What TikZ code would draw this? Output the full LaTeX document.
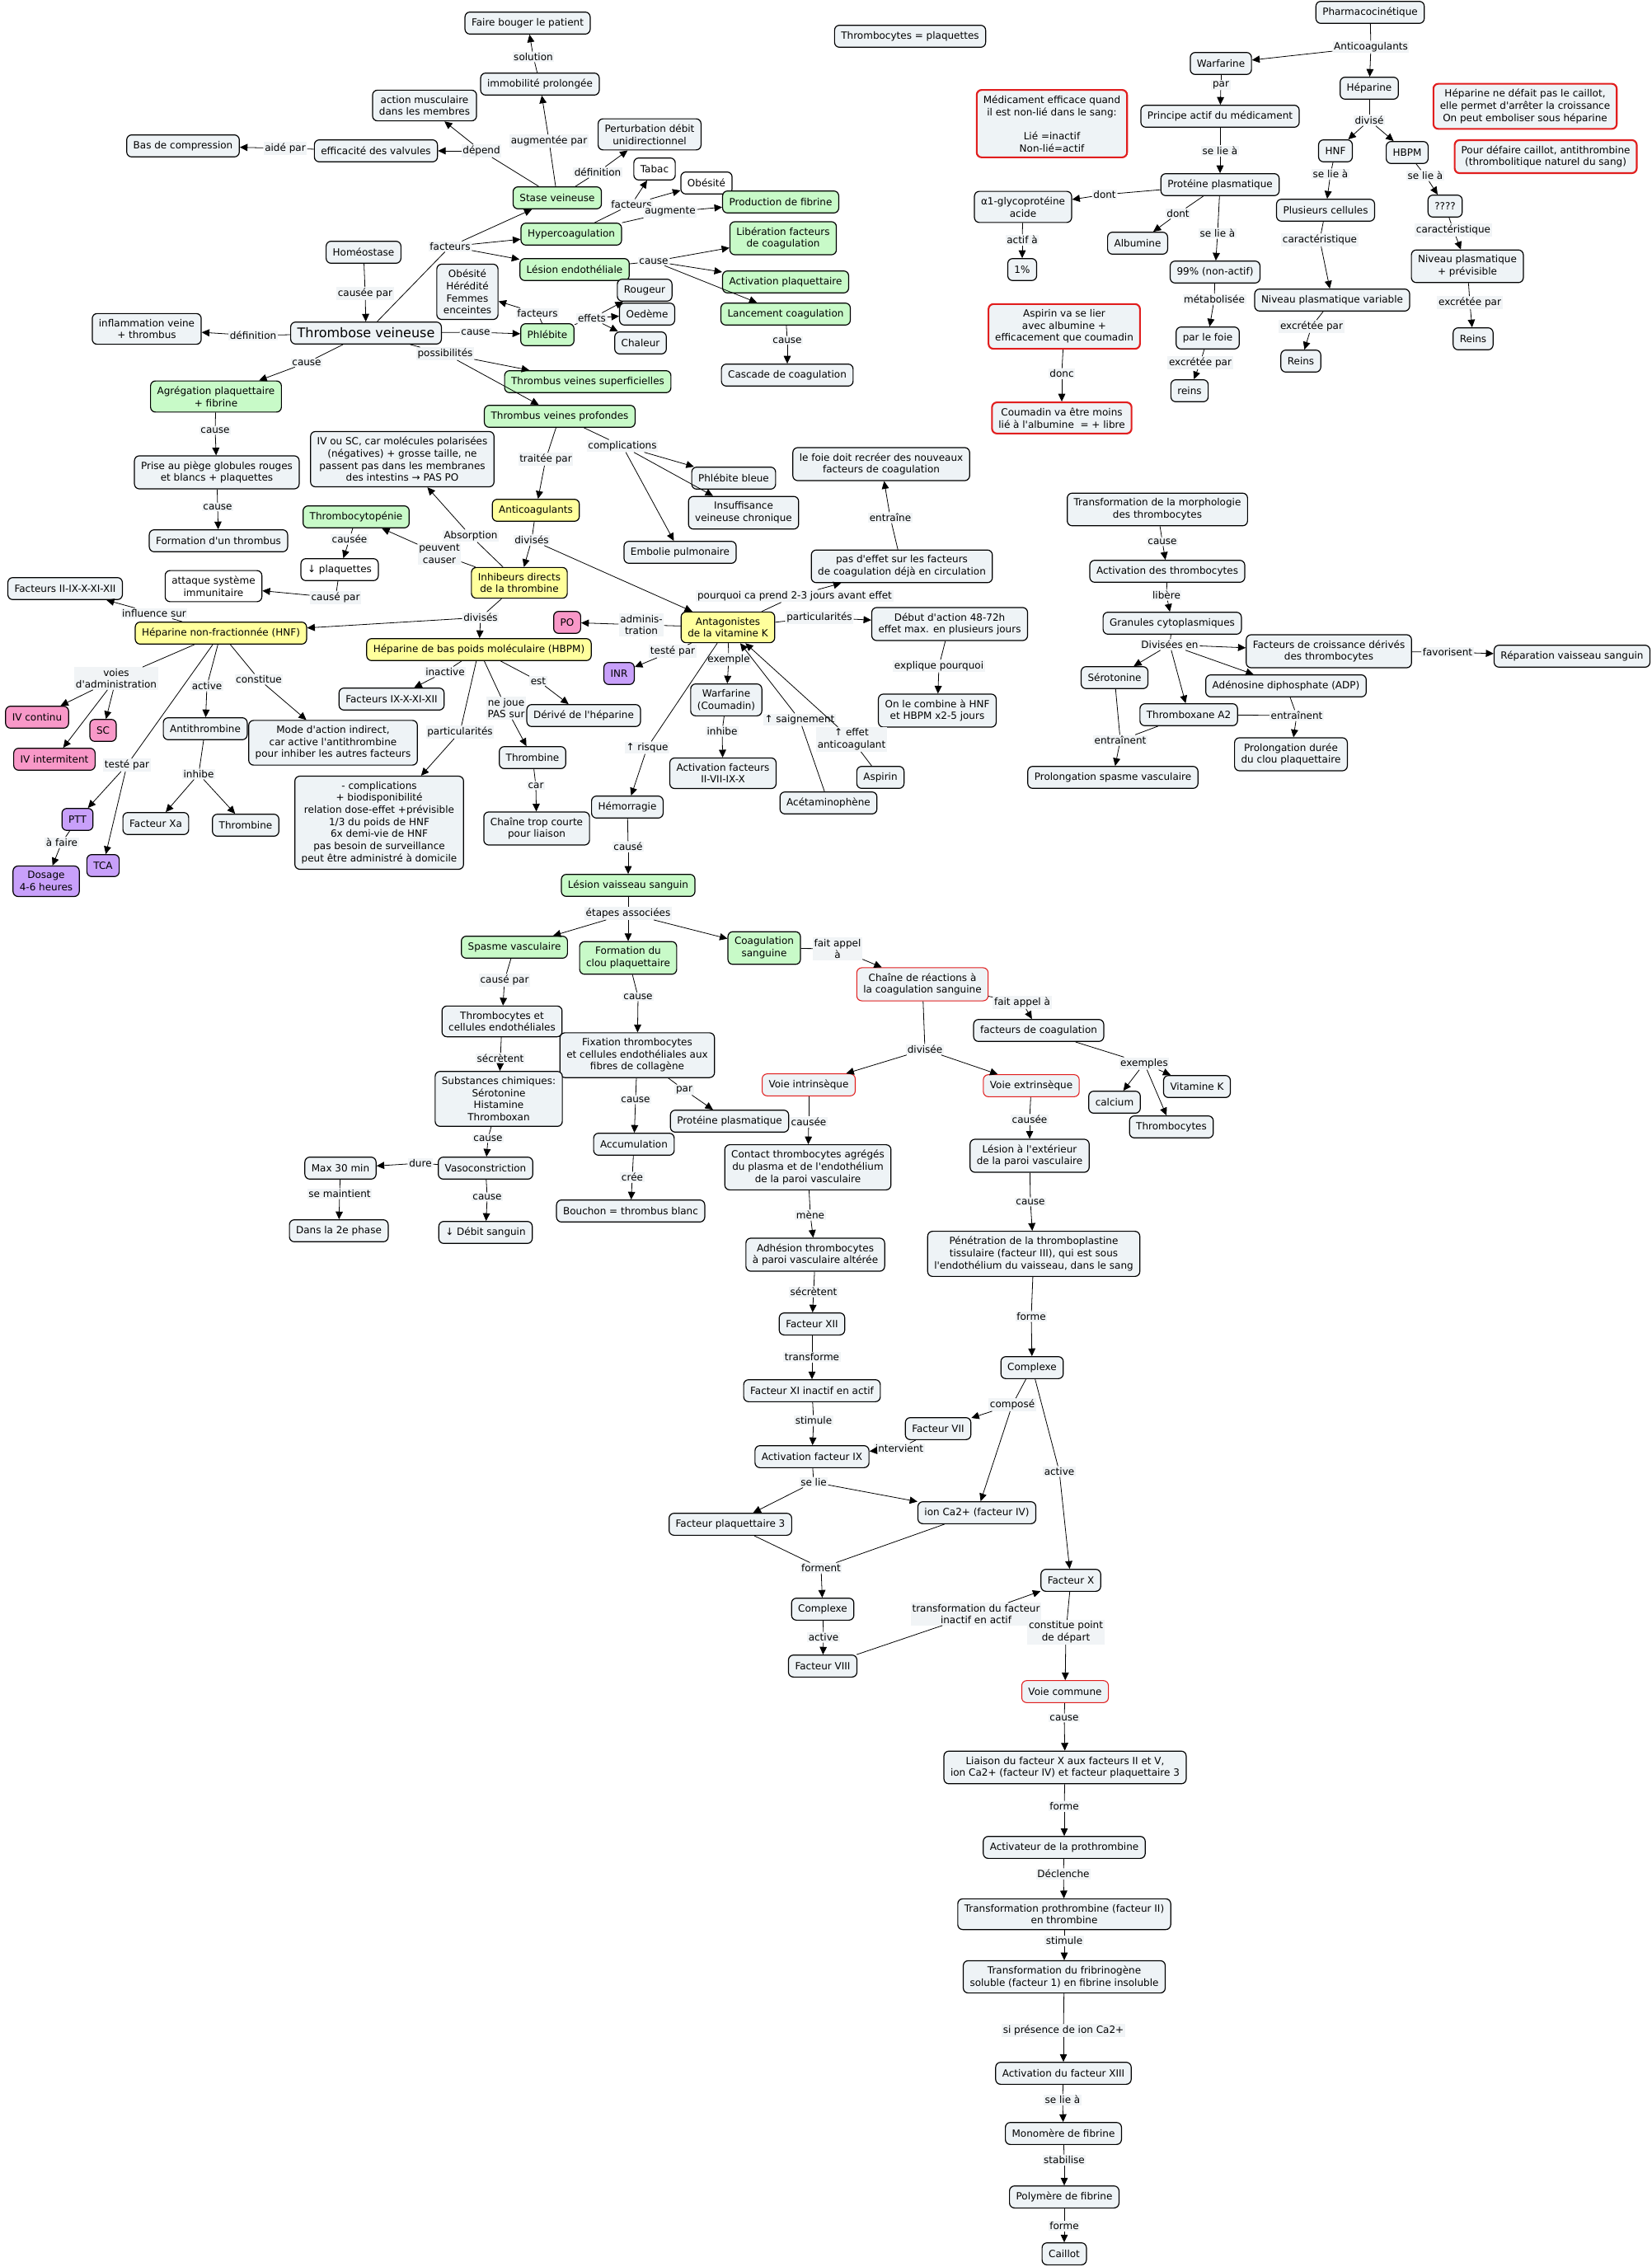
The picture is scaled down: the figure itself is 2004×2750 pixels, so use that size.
\documentclass[tikz,border=0pt]{standalone}
\usepackage{fontspec}
\setmainfont{DejaVu Sans}[Ligatures=TeXOff]
\usetikzlibrary{arrows.meta}
\definecolor{bxc}{RGB}{238,243,246}
\definecolor{grc}{RGB}{200,250,200}
\definecolor{yec}{RGB}{255,255,156}
\definecolor{pkc}{RGB}{248,152,200}
\definecolor{puc}{RGB}{200,160,250}
\definecolor{redc}{RGB}{225,30,30}
\definecolor{lbc}{RGB}{241,244,246}
\tikzset{
 mbase/.style={draw=black, line width=0.9pt, rounded corners=4.5pt, align=center, inner xsep=6pt, inner ysep=5pt, minimum height=20pt, font=\fontsize{9pt}{11pt}\selectfont},
 bx/.style={mbase, fill=bxc},
 gbx/.style={mbase, fill=grc},
 ybx/.style={mbase, fill=yec},
 pbx/.style={mbase, fill=pkc},
 vbx/.style={mbase, fill=puc},
 wbx/.style={mbase, fill=white},
 rbx/.style={mbase, fill=bxc, draw=redc, line width=1.6pt},
 rtx/.style={mbase, fill=bxc, draw=redc, line width=0.8pt},
 lb/.style={fill=lbc, inner sep=1.2pt, align=center, font=\fontsize{9pt}{11pt}\selectfont},
 ln/.style={line width=0.6pt},
 ar/.style={line width=0.6pt, -{Triangle[length=7pt,width=6.5pt]}},
}
\begin{document}
\begin{tikzpicture}[x=0.75pt,y=-0.75pt]
\fill[white] (0,0) rectangle (2004,2750);
\useasboundingbox (0,0) rectangle (2004,2750);
% ---------- top left ----------
\node[bx] (faire) at (640,28) {Faire bouger le patient};
\node[lb] (lsolution) at (647,69) {solution};
\node[bx] (immob) at (655,102) {immobilité prolongée};
\node[bx] (action) at (515,128) {action musculaire\\dans les membres};
\node[lb] (laugpar) at (666,171) {augmentée par};
\node[bx] (bas) at (222,177) {Bas de compression};
\node[lb] (laide) at (346,180) {aidé par};
\node[bx] (effic) at (456,183) {efficacité des valvules};
\node[lb] (ldepend) at (584,183) {dépend};
\node[bx] (perturb) at (788,163) {Perturbation débit\\unidirectionnel};
\node[lb] (ldefA) at (725,209) {définition};
\node[wbx] (tabac) at (794,205) {Tabac};
\node[wbx] (obesA) at (857,222) {Obésité};
\node[gbx] (stase) at (676,240) {Stase veineuse};
\node[lb] (lfactB) at (766,248) {facteurs};
\node[lb] (laugm) at (813,257) {augmente};
\node[gbx] (prod) at (947,245) {Production de fibrine};
\node[gbx] (hyper) at (693,284) {Hypercoagulation};
\node[gbx] (liber) at (950,289) {Libération facteurs\\de coagulation};
\node[lb] (lfactA) at (546,299) {facteurs};
\node[bx] (homeo) at (441,306) {Homéostase};
\node[lb] (lcauseles) at (793,317) {cause};
\node[gbx] (lesion) at (697,327) {Lésion endothéliale};
\node[gbx] (activpl) at (953,342) {Activation plaquettaire};
\node[bx] (obesB) at (567,354) {Obésité\\Hérédité\\Femmes\\enceintes};
\node[bx] (rougeur) at (782,352) {Rougeur};
\node[lb] (lcauseepar) at (443,356) {causée par};
\node[lb] (lfactC) at (652,380) {facteurs};
\node[bx] (oedeme) at (785,381) {Oedème};
\node[gbx] (lanc) at (953,381) {Lancement coagulation};
\node[lb] (leffets) at (718,386) {effets};
\node[bx] (chaleur) at (777,416) {Chaleur};
\node[gbx] (phleb) at (664,406) {Phlébite};
\node[bx] (inflam) at (178,399) {inflammation veine\\+ thrombus};
\node[lb] (ldefB) at (307,407) {définition};
\node[bx, font=\fontsize{12pt}{14pt}\selectfont] (thromb) at (444,404) {Thrombose veineuse};
\node[lb] (lcausephl) at (577,403) {cause};
\node[lb] (lcausecasc) at (955,413) {cause};
\node[lb] (lpossib) at (540,429) {possibilités};
\node[lb] (lcauseagr) at (372,440) {cause};
\node[bx] (cascade) at (955,455) {Cascade de coagulation};
\node[gbx] (tvs) at (713,463) {Thrombus veines superficielles};
\node[gbx] (agreg) at (262,481) {Agrégation plaquettaire\\+ fibrine};
\node[gbx] (tvp) at (679,505) {Thrombus veines profondes};
\node[lb] (lcausepr) at (261,522) {cause};
\node[lb] (lcomplic) at (755,541) {complications};
\node[lb] (ltraitee) at (662,557) {traitée par};
\node[bx] (ivsc) at (488,557) {IV ou SC, car molécules polarisées\\(négatives) + grosse taille, ne\\passent pas dans les membranes\\des intestins → PAS PO};
\node[bx] (prise) at (263,573) {Prise au piège globules rouges\\et blancs + plaquettes};
\node[bx] (phlbleue) at (890,580) {Phlébite bleue};
\node[lb] (lcausefo) at (264,615) {cause};
\node[ybx] (anticoag) at (650,619) {Anticoagulants};
\node[bx] (insuf) at (902,622) {Insuffisance\\veineuse chronique};
\node[gbx] (thrombocyt) at (432,627) {Thrombocytopénie};
\node[lb] (labsorp) at (571,650) {Absorption};
\node[lb] (lcausee) at (424,654) {causée};
\node[lb] (ldivA) at (645,655) {divisés};
\node[bx] (formthr) at (265,656) {Formation d'un thrombus};
\node[bx] (embolie) at (825,670) {Embolie pulmonaire};
\node[lb] (lpeuv) at (533,672) {peuvent\\causer};
\node[wbx] (dimplaq) at (412,691) {↓ plaquettes};
\node[ybx] (inhib) at (630,707) {Inhibeurs directs\\de la thrombine};
\node[wbx] (attaque) at (259,711) {attaque système\\immunitaire};
\node[bx] (factII) at (79,714) {Facteurs II-IX-X-XI-XII};
\node[lb] (lcausepar) at (407,725) {causé par};
\node[lb] (linflu) at (187,744) {influence sur};
\node[lb] (ldivB) at (583,749) {divisés};
\node[pbx] (po) at (688,755) {PO};
\node[ybx] (hnf) at (268,768) {Héparine non-fractionnée (HNF)};
\node[ybx] (hbpm) at (581,788) {Héparine de bas poids moléculaire (HBPM)};
\node[lb] (lvoies) at (141,823) {voies\\d'administration};
\node[lb] (lactiveA) at (251,832) {active};
\node[lb] (lconstit) at (314,824) {constitue};
\node[lb] (linactive) at (540,815) {inactive};
\node[lb] (lest) at (653,826) {est};
\node[lb] (lnejoue) at (614,859) {ne joue\\PAS sur};
\node[pbx] (ivcont) at (45,870) {IV continu};
\node[pbx] (sc) at (125,886) {SC};
\node[bx] (factIX) at (475,848) {Facteurs IX-X-XI-XII};
\node[bx] (derive) at (708,868) {Dérivé de l'héparine};
\node[bx] (antithr) at (249,884) {Antithrombine};
\node[bx] (mode) at (404,901) {Mode d'action indirect,\\car active l'antithrombine\\pour inhiber les autres facteurs};
\node[pbx] (ivint) at (66,921) {IV intermitent};
\node[lb] (ltesteA) at (154,928) {testé par};
\node[lb] (linhibeA) at (241,939) {inhibe};
\node[lb] (lparticA) at (558,888) {particularités};
\node[bx] (thrombineB) at (646,919) {Thrombine};
\node[lb] (lcar) at (650,953) {car};
\node[bx] (compl) at (460,998) {- complications\\+ biodisponibilité\\relation dose-effet +prévisible\\1/3 du poids de HNF\\6x demi-vie de HNF\\pas besoin de surveillance\\peut être administré à domicile};
\node[vbx] (ptt) at (94,994) {PTT};
\node[bx] (fxa) at (189,999) {Facteur Xa};
\node[bx] (thrombineA) at (298,1001) {Thrombine};
\node[bx] (chaine) at (651,1005) {Chaîne trop courte\\pour liaison};
\node[lb] (lafaire) at (75,1022) {à faire};
\node[vbx] (tca) at (125,1050) {TCA};
\node[vbx] (dosage) at (56,1069) {Dosage\\4-6 heures};
% ---------- middle ----------
\node[bx] (foie) at (1069,563) {le foie doit recréer des nouveaux\\facteurs de coagulation};
\node[lb] (lentraine) at (1080,628) {entraîne};
\node[bx] (pasdeffet) at (1094,687) {pas d'effet sur les facteurs\\de coagulation déjà en circulation};
\node[lb] (lpourquoi) at (964,723) {pourquoi ca prend 2-3 jours avant effet};
\node[ybx] (antag) at (883,761) {Antagonistes\\de la vitamine K};
\node[lb] (ladmin) at (778,758) {adminis-\\tration};
\node[lb] (lparticB) at (994,749) {particularités};
\node[bx] (debut) at (1152,757) {Début d'action 48-72h\\effet max. en plusieurs jours};
\node[lb] (ltesteB) at (816,790) {testé par};
\node[vbx] (inr) at (751,817) {INR};
\node[lb] (lexemple) at (884,800) {exemple};
\node[lb] (lexplique) at (1139,808) {explique pourquoi};
\node[bx] (warfB) at (881,849) {Warfarine\\(Coumadin)};
\node[bx] (combine) at (1137,862) {On le combine à HNF\\et HBPM x2-5 jours};
\node[lb] (lsaign) at (970,873) {↑ saignement};
\node[lb] (leffet) at (1033,897) {↑ effet\\anticoagulant};
\node[lb] (linhibeB) at (876,887) {inhibe};
\node[lb] (lrisque) at (785,907) {↑ risque};
\node[bx] (activfact) at (877,938) {Activation facteurs\\II-VII-IX-X};
\node[bx] (aspirin) at (1068,943) {Aspirin};
\node[bx] (hemorr) at (761,979) {Hémorragie};
\node[bx] (acet) at (1005,974) {Acétaminophène};
\node[lb] (lcausehem) at (762,1027) {causé};
\node[gbx] (lesvais) at (762,1074) {Lésion vaisseau sanguin};
\node[lb] (letapes) at (762,1108) {étapes associées};
% ---------- top right ----------
\node[bx] (thrplaq) at (1104,44) {Thrombocytes = plaquettes};
\node[bx] (pharma) at (1662,15) {Pharmacocinétique};
\node[lb] (lanticoag) at (1663,57) {Anticoagulants};
\node[bx] (warfA) at (1481,77) {Warfarine};
\node[lb] (lpar) at (1481,103) {par};
\node[bx] (hep) at (1661,107) {Héparine};
\node[rbx] (hepnote) at (1850,129) {Héparine ne défait pas le caillot,\\elle permet d'arrêter la croissance\\On peut emboliser sous héparine};
\node[bx] (principe) at (1480,141) {Principe actif du médicament};
\node[lb] (ldivise) at (1661,146) {divisé};
\node[rbx] (medic) at (1276,150) {Médicament efficace quand\\il est non-lié dans le sang:\\[11pt]Lié =inactif\\Non-lié=actif};
\node[bx] (hnfB) at (1620,183) {HNF};
\node[bx] (hbpmB) at (1707,185) {HBPM};
\node[rbx] (defaire) at (1875,190) {Pour défaire caillot, antithrombine\\(thrombolitique naturel du sang)};
\node[lb] (lselieA) at (1480,183) {se lie à};
\node[lb] (lselieB) at (1614,211) {se lie à};
\node[lb] (lselieC) at (1729,213) {se lie à};
\node[bx] (proteine) at (1480,224) {Protéine plasmatique};
\node[bx] (alpha) at (1241,251) {α1-glycoprotéine\\acide};
\node[lb] (ldontA) at (1340,236) {dont};
\node[bx] (qqqq) at (1753,250) {????};
\node[bx] (plusieurs) at (1608,255) {Plusieurs cellules};
\node[lb] (ldontB) at (1429,259) {dont};
\node[lb] (lselieD) at (1477,283) {se lie à};
\node[lb] (lactifa) at (1240,291) {actif à};
\node[lb] (lcaractA) at (1601,291) {caractéristique};
\node[lb] (lcaractB) at (1763,279) {caractéristique};
\node[bx] (albumine) at (1380,295) {Albumine};
\node[bx] (niveauprev) at (1780,323) {Niveau plasmatique\\+ prévisible};
\node[bx] (onepct) at (1240,327) {1\%};
\node[bx] (n99) at (1474,330) {99\% (non-actif)};
\node[lb] (lmetab) at (1473,363) {métabolisée};
\node[bx] (niveauvar) at (1616,364) {Niveau plasmatique variable};
\node[lb] (lexcrA) at (1783,367) {excrétée par};
\node[rbx] (aspnote) at (1291,396) {Aspirin va se lier\\avec albumine +\\efficacement que coumadin};
\node[bx] (parfoie) at (1465,410) {par le foie};
\node[lb] (lexcrB) at (1591,396) {excrétée par};
\node[bx] (reinsA) at (1787,411) {Reins};
\node[bx] (reinsB) at (1578,438) {Reins};
\node[lb] (lexcrC) at (1456,440) {excrétée par};
\node[lb] (ldonc) at (1288,453) {donc};
\node[bx] (reinsC) at (1443,474) {reins};
\node[rbx] (coumnote) at (1288,507) {Coumadin va être moins\\lié à l'albumine ~= + libre};
% ---------- right middle ----------
\node[bx] (transmorph) at (1404,618) {Transformation de la morphologie\\des thrombocytes};
\node[lb] (lcausetm) at (1410,657) {cause};
\node[bx] (activthr) at (1416,693) {Activation des thrombocytes};
\node[lb] (llibere) at (1415,722) {libère};
\node[bx] (granules) at (1422,756) {Granules cytoplasmiques};
\node[lb] (ldivisees) at (1419,782) {Divisées en};
\node[bx] (factcroiss) at (1612,790) {Facteurs de croissance dérivés\\des thrombocytes};
\node[lb] (lfavor) at (1756,791) {favorisent};
\node[bx] (repar) at (1907,796) {Réparation vaisseau sanguin};
\node[bx] (seroton) at (1352,822) {Sérotonine};
\node[bx] (adp) at (1560,832) {Adénosine diphosphate (ADP)};
\node[bx] (txa2) at (1442,867) {Thromboxane A2};
\node[lb] (lentrA) at (1573,868) {entraînent};
\node[bx] (proldur) at (1566,915) {Prolongation durée\\du clou plaquettaire};
\node[lb] (lentrB) at (1359,898) {entraînent};
\node[bx] (prolspasme) at (1350,943) {Prolongation spasme vasculaire};
% ---------- lower left ----------
\node[gbx] (spasme) at (624,1149) {Spasme vasculaire};
\node[gbx] (clou) at (762,1162) {Formation du\\clou plaquettaire};
\node[gbx] (coag) at (927,1150) {Coagulation\\sanguine};
\node[lb] (lcauseparB) at (612,1189) {causé par};
\node[lb] (lcauseclou) at (774,1209) {cause};
\node[bx] (thrcell) at (609,1239) {Thrombocytes et\\cellules endothéliales};
\node[bx] (fixation) at (773,1280) {Fixation thrombocytes\\et cellules endothéliales aux\\fibres de collagène};
\node[lb] (lsecretA) at (607,1284) {sécrètent};
\node[bx] (subst) at (605,1333) {Substances chimiques:\\Sérotonine\\Histamine\\Thromboxan};
\node[lb] (lparB) at (830,1322) {par};
\node[lb] (lcausefix) at (771,1334) {cause};
\node[bx] (protB) at (885,1360) {Protéine plasmatique};
\node[lb] (lcausesub) at (592,1381) {cause};
\node[bx] (accum) at (769,1388) {Accumulation};
\node[lb] (ldure) at (510,1411) {dure};
\node[bx] (max30) at (413,1417) {Max 30 min};
\node[bx] (vaso) at (589,1417) {Vasoconstriction};
\node[lb] (lcree) at (767,1428) {crée};
\node[lb] (lmaintient) at (412,1448) {se maintient};
\node[lb] (lcausevaso) at (591,1452) {cause};
\node[bx] (bouchon) at (765,1469) {Bouchon = thrombus blanc};
\node[bx] (phase2) at (411,1493) {Dans la 2e phase};
\node[bx] (debit) at (589,1495) {↓ Débit sanguin};
% ---------- lower center ----------
\node[lb] (lfaitA) at (1016,1151) {fait appel\\à};
\node[rtx] (chainereac) at (1119,1194) {Chaîne de réactions à\\la coagulation sanguine};
\node[lb] (lfaitB) at (1240,1216) {fait appel à};
\node[bx] (factcoag) at (1260,1250) {facteurs de coagulation};
\node[lb] (ldivisee) at (1122,1273) {divisée};
\node[lb] (lexemples) at (1388,1290) {exemples};
\node[rtx] (vintr) at (981,1316) {Voie intrinsèque};
\node[rtx] (vextr) at (1251,1317) {Voie extrinsèque};
\node[bx] (vitk) at (1452,1318) {Vitamine K};
\node[bx] (calcium) at (1352,1337) {calcium};
\node[bx] (thrombocytes) at (1421,1367) {Thrombocytes};
\node[lb] (lcauseeA) at (981,1361) {causée};
\node[lb] (lcauseeB) at (1249,1358) {causée};
\node[bx] (contact) at (980,1416) {Contact thrombocytes agrégés\\du plasma et de l'endothélium\\de la paroi vasculaire};
\node[bx] (lesext) at (1249,1402) {Lésion à l'extérieur\\de la paroi vasculaire};
\node[lb] (lcauselext) at (1250,1458) {cause};
\node[lb] (lmene) at (983,1474) {mène};
\node[bx] (adhesion) at (989,1522) {Adhésion thrombocytes\\à paroi vasculaire altérée};
\node[bx] (penetr) at (1254,1521) {Pénétration de la thromboplastine\\tissulaire (facteur III), qui est sous\\l'endothélium du vaisseau, dans le sang};
\node[lb] (lsecretB) at (987,1567) {sécrètent};
\node[lb] (lformeA) at (1251,1597) {forme};
\node[bx] (fXII) at (985,1606) {Facteur XII};
\node[lb] (ltransforme) at (985,1646) {transforme};
\node[bx] (complexeR) at (1252,1659) {Complexe};
\node[bx] (fXI) at (985,1687) {Facteur XI inactif en actif};
\node[lb] (lcompose) at (1228,1704) {composé};
\node[lb] (lstimuleA) at (987,1723) {stimule};
\node[bx] (fVII) at (1138,1733) {Facteur VII};
\node[lb] (lintervient) at (1091,1757) {intervient};
\node[bx] (actIX) at (985,1767) {Activation facteur IX};
\node[lb] (lactiveB) at (1285,1785) {active};
\node[lb] (lselieE) at (987,1798) {se lie};
\node[bx] (fp3) at (886,1849) {Facteur plaquettaire 3};
\node[bx] (ca) at (1185,1835) {ion Ca2+ (facteur IV)};
\node[lb] (lforment) at (996,1902) {forment};
\node[bx] (fX) at (1299,1917) {Facteur X};
\node[bx] (complexeL) at (998,1952) {Complexe};
\node[lb] (ltransf) at (1184,1958) {transformation du facteur\\inactif en actif};
\node[lb] (lconstitue) at (1293,1980) {constitue point\\de départ};
\node[lb] (lactiveC) at (999,1986) {active};
\node[bx] (fVIII) at (998,2021) {Facteur VIII};
% ---------- bottom chain ----------
\node[rtx] (vcommune) at (1292,2052) {Voie commune};
\node[lb] (lcA) at (1291,2084) {cause};
\node[bx] (liaison) at (1292,2144) {Liaison du facteur X aux facteurs II et V,\\ion Ca2+ (facteur IV) et facteur plaquettaire 3};
\node[lb] (lcB) at (1291,2191) {forme};
\node[bx] (activateur) at (1291,2241) {Activateur de la prothrombine};
\node[lb] (lcC) at (1290,2273) {Déclenche};
\node[bx] (transpro) at (1291,2322) {Transformation prothrombine (facteur II)\\en thrombine};
\node[lb] (lcD) at (1291,2354) {stimule};
\node[bx] (transfib) at (1291,2398) {Transformation du fribrinogène\\soluble (facteur 1) en fibrine insoluble};
\node[lb] (lcE) at (1290,2463) {si présence de ion Ca2+};
\node[bx] (actXIII) at (1290,2515) {Activation du facteur XIII};
\node[lb] (lcF) at (1289,2547) {se lie à};
\node[bx] (monomere) at (1290,2588) {Monomère de fibrine};
\node[lb] (lcG) at (1291,2620) {stabilise};
\node[bx] (polymere) at (1291,2665) {Polymère de fibrine};
\node[lb] (lcH) at (1291,2700) {forme};
\node[bx] (caillot) at (1291,2734) {Caillot};
% ================= connectors =================
\draw[ln] (immob) -- (lsolution); \draw[ar] (lsolution) -- (faire);
\draw[ln] (stase) -- (laugpar); \draw[ar] (laugpar) -- (immob);
\draw[ln] (stase) -- (ldepend); \draw[ar] (ldepend) -- (effic); \draw[ar] (ldepend) -- (action);
\draw[ln] (effic) -- (laide); \draw[ar] (laide) -- (bas);
\draw[ln] (stase) -- (ldefA); \draw[ar] (ldefA) -- (perturb);
\draw[ln] (hyper) -- (lfactB); \draw[ar] (lfactB) -- (tabac); \draw[ar] (lfactB) -- (obesA);
\draw[ln] (hyper) -- (laugm); \draw[ar] (laugm) -- (prod);
\draw[ln] (lesion) -- (lcauseles); \draw[ar] (lcauseles) -- (liber); \draw[ar] (lcauseles) -- (activpl); \draw[ar] (lcauseles) -- (lanc);
\draw[ln] (lanc) -- (lcausecasc); \draw[ar] (lcausecasc) -- (cascade);
\draw[ln] (thromb) -- (lfactA); \draw[ar] (lfactA) -- (stase); \draw[ar] (lfactA) -- (hyper); \draw[ar] (lfactA) -- (lesion);
\draw[ln] (homeo) -- (lcauseepar); \draw[ar] (lcauseepar) -- (thromb);
\draw[ln] (thromb) -- (ldefB); \draw[ar] (ldefB) -- (inflam);
\draw[ln] (thromb) -- (lcausephl); \draw[ar] (lcausephl) -- (phleb);
\draw[ln] (phleb) -- (lfactC); \draw[ar] (lfactC) -- (obesB);
\draw[ln] (phleb) -- (leffets); \draw[ar] (leffets) -- (rougeur); \draw[ar] (leffets) -- (oedeme); \draw[ar] (leffets) -- (chaleur);
\draw[ln] (thromb) -- (lpossib); \draw[ar] (lpossib) -- (tvs); \draw[ar] (lpossib) -- (tvp);
\draw[ln] (thromb) -- (lcauseagr); \draw[ar] (lcauseagr) -- (agreg);
\draw[ln] (agreg) -- (lcausepr); \draw[ar] (lcausepr) -- (prise);
\draw[ln] (prise) -- (lcausefo); \draw[ar] (lcausefo) -- (formthr);
\draw[ln] (tvp) -- (ltraitee); \draw[ar] (ltraitee) -- (anticoag);
\draw[ln] (tvp) -- (lcomplic); \draw[ar] (lcomplic) -- (phlbleue); \draw[ar] (lcomplic) -- (insuf); \draw[ar] (lcomplic) -- (embolie);
\draw[ln] (anticoag) -- (ldivA); \draw[ar] (ldivA) -- (inhib); \draw[ar] (ldivA) -- (antag);
\draw[ln] (inhib) -- (labsorp); \draw[ar] (labsorp) -- (ivsc);
\draw[ln] (inhib) -- (lpeuv); \draw[ar] (lpeuv) -- (thrombocyt);
\draw[ln] (thrombocyt) -- (lcausee); \draw[ar] (lcausee) -- (dimplaq);
\draw[ln] (dimplaq) -- (lcausepar); \draw[ar] (lcausepar) -- (attaque);
\draw[ln] (inhib) -- (ldivB); \draw[ar] (ldivB) -- (hnf); \draw[ar] (ldivB) -- (hbpm);
\draw[ln] (hnf) -- (linflu); \draw[ar] (linflu) -- (factII);
\draw[ln] (hnf) -- (lvoies); \draw[ar] (lvoies) -- (ivcont); \draw[ar] (lvoies) -- (sc); \draw[ar] (lvoies) -- (ivint);
\draw[ln] (hnf) -- (lactiveA); \draw[ar] (lactiveA) -- (antithr);
\draw[ln] (hnf) -- (lconstit); \draw[ar] (lconstit) -- (mode);
\draw[ln] (hnf) -- (ltesteA); \draw[ar] (ltesteA) -- (ptt); \draw[ar] (ltesteA) -- (tca);
\draw[ln] (antithr) -- (linhibeA); \draw[ar] (linhibeA) -- (fxa); \draw[ar] (linhibeA) -- (thrombineA);
\draw[ln] (ptt) -- (lafaire); \draw[ar] (lafaire) -- (dosage);
\draw[ln] (hbpm) -- (linactive); \draw[ar] (linactive) -- (factIX);
\draw[ln] (hbpm) -- (lest); \draw[ar] (lest) -- (derive);
\draw[ln] (hbpm) -- (lnejoue); \draw[ar] (lnejoue) -- (thrombineB);
\draw[ln] (hbpm) -- (lparticA); \draw[ar] (lparticA) -- (compl);
\draw[ln] (thrombineB) -- (lcar); \draw[ar] (lcar) -- (chaine);
\draw[ln] (antag) -- (ladmin); \draw[ar] (ladmin) -- (po);
\draw[ln] (antag) -- (ltesteB); \draw[ar] (ltesteB) -- (inr);
\draw[ln] (antag) -- (lexemple); \draw[ar] (lexemple) -- (warfB);
\draw[ln] (warfB) -- (linhibeB); \draw[ar] (linhibeB) -- (activfact);
\draw[ln] (antag) -- (lrisque); \draw[ar] (lrisque) -- (hemorr);
\draw[ln] (acet) -- (lsaign); \draw[ar] (lsaign) -- (antag);
\draw[ln] (aspirin) -- (leffet); \draw[ar] (leffet) -- (antag);
\draw[ln] (antag) -- (lparticB); \draw[ar] (lparticB) -- (debut);
\draw[ln] (debut) -- (lexplique); \draw[ar] (lexplique) -- (combine);
\draw[ln] (antag) -- (lpourquoi); \draw[ar] (lpourquoi) -- (pasdeffet);
\draw[ln] (pasdeffet) -- (lentraine); \draw[ar] (lentraine) -- (foie);
\draw[ln] (hemorr) -- (lcausehem); \draw[ar] (lcausehem) -- (lesvais);
\draw[ln] (lesvais) -- (letapes); \draw[ar] (letapes) -- (spasme); \draw[ar] (letapes) -- (clou); \draw[ar] (letapes) -- (coag);
% top right
\draw[ln] (pharma) -- (lanticoag); \draw[ar] (lanticoag) -- (warfA); \draw[ar] (lanticoag) -- (hep);
\draw[ln] (warfA) -- (lpar); \draw[ar] (lpar) -- (principe);
\draw[ln] (principe) -- (lselieA); \draw[ar] (lselieA) -- (proteine);
\draw[ln] (proteine) -- (ldontA); \draw[ar] (ldontA) -- (alpha);
\draw[ln] (proteine) -- (ldontB); \draw[ar] (ldontB) -- (albumine);
\draw[ln] (alpha) -- (lactifa); \draw[ar] (lactifa) -- (onepct);
\draw[ln] (proteine) -- (lselieD); \draw[ar] (lselieD) -- (n99);
\draw[ln] (n99) -- (lmetab); \draw[ar] (lmetab) -- (parfoie);
\draw[ln] (parfoie) -- (lexcrC); \draw[ar] (lexcrC) -- (reinsC);
\draw[ln] (hep) -- (ldivise); \draw[ar] (ldivise) -- (hnfB); \draw[ar] (ldivise) -- (hbpmB);
\draw[ln] (hnfB) -- (lselieB); \draw[ar] (lselieB) -- (plusieurs);
\draw[ln] (plusieurs) -- (lcaractA); \draw[ar] (lcaractA) -- (niveauvar);
\draw[ln] (niveauvar) -- (lexcrB); \draw[ar] (lexcrB) -- (reinsB);
\draw[ln] (hbpmB) -- (lselieC); \draw[ar] (lselieC) -- (qqqq);
\draw[ln] (qqqq) -- (lcaractB); \draw[ar] (lcaractB) -- (niveauprev);
\draw[ln] (niveauprev) -- (lexcrA); \draw[ar] (lexcrA) -- (reinsA);
\draw[ln] (aspnote) -- (ldonc); \draw[ar] (ldonc) -- (coumnote);
% thrombocytes
\draw[ln] (transmorph) -- (lcausetm); \draw[ar] (lcausetm) -- (activthr);
\draw[ln] (activthr) -- (llibere); \draw[ar] (llibere) -- (granules);
\draw[ln] (granules) -- (ldivisees); \draw[ar] (ldivisees) -- (factcroiss); \draw[ar] (ldivisees) -- (seroton); \draw[ar] (ldivisees) -- (txa2); \draw[ar] (ldivisees) -- (adp);
\draw[ln] (factcroiss) -- (lfavor); \draw[ar] (lfavor) -- (repar);
\draw[ln] (txa2) -- (lentrA); \draw[ln] (adp) -- (lentrA); \draw[ar] (lentrA) -- (proldur);
\draw[ln] (seroton) -- (lentrB); \draw[ln] (txa2) -- (lentrB); \draw[ar] (lentrB) -- (prolspasme);
% lower left
\draw[ln] (spasme) -- (lcauseparB); \draw[ar] (lcauseparB) -- (thrcell);
\draw[ln] (thrcell) -- (lsecretA); \draw[ar] (lsecretA) -- (subst);
\draw[ln] (subst) -- (lcausesub); \draw[ar] (lcausesub) -- (vaso);
\draw[ln] (vaso) -- (ldure); \draw[ar] (ldure) -- (max30);
\draw[ln] (max30) -- (lmaintient); \draw[ar] (lmaintient) -- (phase2);
\draw[ln] (vaso) -- (lcausevaso); \draw[ar] (lcausevaso) -- (debit);
\draw[ln] (clou) -- (lcauseclou); \draw[ar] (lcauseclou) -- (fixation);
\draw[ln] (fixation) -- (lparB); \draw[ar] (lparB) -- (protB);
\draw[ln] (fixation) -- (lcausefix); \draw[ar] (lcausefix) -- (accum);
\draw[ln] (accum) -- (lcree); \draw[ar] (lcree) -- (bouchon);
% coagulation cascade
\draw[ln] (coag) -- (lfaitA); \draw[ar] (lfaitA) -- (chainereac);
\draw[ln] (chainereac) -- (lfaitB); \draw[ar] (lfaitB) -- (factcoag);
\draw[ln] (factcoag) -- (lexemples); \draw[ar] (lexemples) -- (calcium); \draw[ar] (lexemples) -- (thrombocytes); \draw[ar] (lexemples) -- (vitk);
\draw[ln] (chainereac) -- (ldivisee); \draw[ar] (ldivisee) -- (vintr); \draw[ar] (ldivisee) -- (vextr);
\draw[ln] (vintr) -- (lcauseeA); \draw[ar] (lcauseeA) -- (contact);
\draw[ln] (contact) -- (lmene); \draw[ar] (lmene) -- (adhesion);
\draw[ln] (adhesion) -- (lsecretB); \draw[ar] (lsecretB) -- (fXII);
\draw[ln] (fXII) -- (ltransforme); \draw[ar] (ltransforme) -- (fXI);
\draw[ln] (fXI) -- (lstimuleA); \draw[ar] (lstimuleA) -- (actIX);
\draw[ln] (actIX) -- (lselieE); \draw[ar] (lselieE) -- (fp3); \draw[ar] (lselieE) -- (ca);
\draw[ln] (fp3) -- (lforment); \draw[ln] (ca) -- (lforment); \draw[ar] (lforment) -- (complexeL);
\draw[ln] (complexeL) -- (lactiveC); \draw[ar] (lactiveC) -- (fVIII);
\draw[ln] (fVIII) -- (ltransf); \draw[ar] (ltransf) -- (fX);
\draw[ln] (vextr) -- (lcauseeB); \draw[ar] (lcauseeB) -- (lesext);
\draw[ln] (lesext) -- (lcauselext); \draw[ar] (lcauselext) -- (penetr);
\draw[ln] (penetr) -- (lformeA); \draw[ar] (lformeA) -- (complexeR);
\draw[ln] (complexeR) -- (lcompose); \draw[ar] (lcompose) -- (fVII); \draw[ar] (lcompose) -- (ca);
\draw[ln] (fVII) -- (lintervient); \draw[ar] (lintervient) -- (actIX);
\draw[ln] (complexeR) -- (lactiveB); \draw[ar] (lactiveB) -- (fX);
\draw[ln] (fX) -- (lconstitue); \draw[ar] (lconstitue) -- (vcommune);
\draw[ln] (vcommune) -- (lcA); \draw[ar] (lcA) -- (liaison);
\draw[ln] (liaison) -- (lcB); \draw[ar] (lcB) -- (activateur);
\draw[ln] (activateur) -- (lcC); \draw[ar] (lcC) -- (transpro);
\draw[ln] (transpro) -- (lcD); \draw[ar] (lcD) -- (transfib);
\draw[ln] (transfib) -- (lcE); \draw[ar] (lcE) -- (actXIII);
\draw[ln] (actXIII) -- (lcF); \draw[ar] (lcF) -- (monomere);
\draw[ln] (monomere) -- (lcG); \draw[ar] (lcG) -- (polymere);
\draw[ln] (polymere) -- (lcH); \draw[ar] (lcH) -- (caillot);
\end{tikzpicture}
\end{document}
